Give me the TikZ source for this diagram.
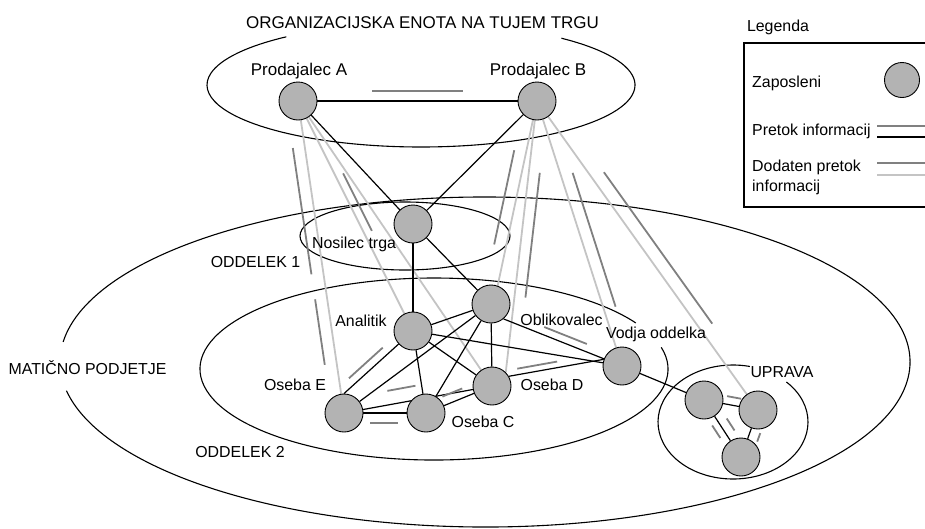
\documentclass[tikz,border=0pt]{standalone}
\usepackage{fontspec}
\setmainfont{Liberation Sans}
\usetikzlibrary{calc}
\definecolor{nodefill}{RGB}{179,179,179}
\definecolor{darkline}{RGB}{128,128,128}
\definecolor{lightline}{RGB}{196,196,196}
\pgfdeclarelayer{back}
\pgfsetlayers{back,main}
% companion segment: from, to, t1, t2, perpendicular offset
\newcommand\compseg[5]{\draw[compline] ($(#1)!#3!(#2)!#5!90:(#2)$) -- ($(#1)!#4!(#2)!#5!90:(#2)$);}
\begin{document}
\begin{tikzpicture}[x=1pt,y=-1pt,
  person/.style={circle, draw=black, line width=0.9pt, fill=nodefill, minimum size=38pt, inner sep=0pt},
  flow/.style={draw=black, line width=1.2pt},
  addflow/.style={draw=lightline, line width=1.8pt},
  compline/.style={draw=darkline, line width=1.8pt},
  region/.style={draw=black, line width=1.1pt},
  lbl/.style={font=\fontsize{15.9}{20.5}\selectfont, inner sep=0pt},
  biglbl/.style={font=\fontsize{17}{20}\selectfont, inner sep=0pt}]
\useasboundingbox (0,0) rectangle (925,528);
\clip (0,0) rectangle (925,528);

% people
\node[person] (A)  at (298,101) {};
\node[person] (B)  at (537,101) {};
\node[person] (N)  at (413,224) {};
\node[person] (An) at (413,331) {};
\node[person] (Ob) at (491,304) {};
\node[person] (D)  at (492,386) {};
\node[person] (V)  at (622,366) {};
\node[person] (E)  at (344,413) {};
\node[person] (C)  at (426,413) {};
\node[person] (U1) at (704,400) {};
\node[person] (U2) at (758,410) {};
\node[person] (U3) at (741,457) {};

\begin{pgfonlayer}{back}
% regions
\draw[region] (421,85) ++(-49:214 and 62) arc[start angle=-49, end angle=231, x radius=214, y radius=62];
\draw[region] (485,362) ++(187:425 and 165) arc[start angle=187, end angle=530, x radius=425, y radius=165];
\draw[region] (434,369) ++(-13.8:234 and 91) arc[start angle=-13.8, end angle=329.6, x radius=234, y radius=91];
\draw[region] (405,236) ellipse[x radius=105, y radius=34];
\draw[region] (733,422) ++(-44.6:75 and 57) arc[start angle=-44.6, end angle=283, x radius=75, y radius=57];

% additional information flow
\draw[addflow] (A) -- (E);
\draw[addflow] (A) -- (An);
\draw[addflow] (A) -- (D);
\draw[addflow] (B) -- (Ob.70);
\draw[addflow] (B) -- (D.45);
\draw[addflow] (B) -- (V);
\draw[addflow] (B) -- (U2);

% information flow
\draw[flow] (A) -- (B);
\draw[flow] (A) -- (N);
\draw[flow] (B) -- (N);
\draw[flow] (N) -- (An);
\draw[flow] (N) -- (Ob);
\draw[flow] (An) -- (Ob);
\draw[flow] (E.north) -- (An);
\draw[flow] (An) -- (C);
\draw[flow] (An) -- (D);
\draw[flow] (An) -- (V);
\draw[flow] (Ob) -- (E);
\draw[flow] (Ob) -- (C);
\draw[flow] (Ob) -- (D);
\draw[flow] (Ob.-50) -- (V);
\draw[flow] (E) -- (C);
\draw[flow] (E) -- (D);
\draw[flow] (C) -- (D);
\draw[flow] (D.30) -- (V.160);
\draw[flow] (V) -- (U1);
\draw[flow] (U1) -- (U2);
\draw[flow] (U1) -- (U3);
\draw[flow] (U2) -- (U3);

% companion strokes
\compseg{A}{B}{.31}{.69}{10pt}
\compseg{A}{E}{.145}{.55}{-12pt}
\compseg{A}{E}{.63}{.84}{-12pt}
\compseg{A}{An}{.33}{.58}{8pt}
\compseg{B}{Ob.70}{.28}{.79}{-12pt}
\compseg{B}{D.45}{.26}{.72}{11pt}
\compseg{B}{V}{.285}{.79}{12pt}
\compseg{B}{U2}{.255}{.745}{13pt}
\compseg{E.north}{An}{.15}{.64}{8pt}
\compseg{E}{D}{.31}{.5}{14pt}
\compseg{E}{C}{.32}{.66}{-10pt}
\compseg{C}{D}{.3}{.6}{9pt}
\compseg{Ob.-50}{V}{.32}{.68}{7.5pt}
\compseg{D.30}{V.160}{.1}{.52}{6pt}
\compseg{U1}{U2}{.4}{.66}{8pt}
\compseg{U1}{U3}{.38}{.6}{-7pt}
\compseg{U1}{U3}{.41}{.62}{9pt}
\compseg{U2}{U3}{.42}{.6}{10pt}
\end{pgfonlayer}

% labels
\node[biglbl, anchor=base] (ttl) at (422.5,28) {ORGANIZACIJSKA ENOTA NA TUJEM TRGU};
\node[biglbl, anchor=base] (lA) at (299,75) {Prodajalec A};
\node[biglbl, anchor=base] (lB) at (538,75) {Prodajalec B};
\node[lbl, anchor=base] (lN) at (354,248) {Nosilec trga};
\node[lbl, anchor=base] (lO1) at (255.5,267) {ODDELEK 1};
\node[lbl, anchor=base] (lAn) at (361,326) {Analitik};
\node[lbl, anchor=base] (lOb) at (561.5,325) {Oblikovalec};
\node[lbl, anchor=base] (lV) at (656,338) {Vodja oddelka};
\node[lbl, anchor=base] (lD) at (552,390) {Oseba D};
\node[lbl, anchor=base] (lE) at (295,390) {Oseba E};
\node[lbl, anchor=base] (lC) at (483,427) {Oseba C};
\node[lbl, anchor=base] (lM) at (87.5,374) {MATIČNO PODJETJE};
\node[lbl, anchor=base] (lO2) at (240,457) {ODDELEK 2};
\node[lbl, anchor=base] (lU) at (782,377) {UPRAVA};

% legend
\node[lbl, anchor=base] (lg) at (778,31) {Legenda};
\draw[line width=1.1pt, fill=white] (744,43) rectangle (935,207);
\node[lbl, anchor=base west] (lz) at (752,87) {Zaposleni};
\node[person, minimum size=35pt] (lp) at (902,80) {};
\node[lbl, anchor=base west] (lpi) at (752,135) {Pretok informacij};
\node[lbl, anchor=base west, align=left] (ldp) at (752,191.5) {Dodaten pretok\\informacij};
\coordinate (l1a) at (877,126); \coordinate (l1b) at (935,126);
\coordinate (l2a) at (877,137); \coordinate (l2b) at (935,137);
\coordinate (l3a) at (877,163); \coordinate (l3b) at (935,163);
\coordinate (l4a) at (877,175); \coordinate (l4b) at (935,175);
\draw[compline] (l1a) -- (l1b);
\draw[flow] (l2a) -- (l2b);
\draw[compline] (l3a) -- (l3b);
\draw[addflow] (l4a) -- (l4b);
\end{tikzpicture}
\end{document}
